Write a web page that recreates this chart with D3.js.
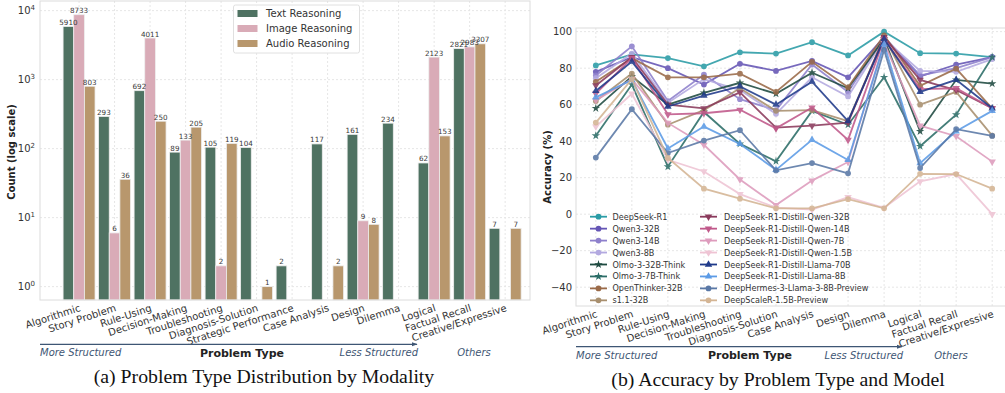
<!DOCTYPE html>
<html>
<head>
<meta charset="utf-8">
<script src="https://cdn.jsdelivr.net/npm/d3@7"></script>
<style>
body { margin: 0; background: #fff; }
svg { display: block; font-family: "DejaVu Sans", sans-serif; }
</style>
</head>
<body>
<svg id="chart" width="1005" height="393"></svg>
<script>
// ---- data: left panel (counts per problem type) ----
var barCategories = ["Algorithmic", "Story Problem", "Rule-Using", "Decision-Making", "Troubleshooting",
    "Diagnosis-Solution", "Strategic Performance", "Case Analysis", "Design", "Dilemma",
    "Logical", "Factual Recall", "Creative/Expressive"];
var textCounts  = [5910, 293, 692, 89, 105, 104, 2, 117, 161, 234, 62, 2821, 7];
var imageCounts = [8733, 6, 4011, 133, 2, null, null, null, 9, null, 2123, 2983, null];
var audioCounts = [803, 36, 250, 205, 119, 1, null, 2, 8, null, 153, 3307, 7];
var modalities = ["Text Reasoning", "Image Reasoning", "Audio Reasoning"];
var logTicks = [1, 10, 100, 1000, 10000];

// ---- data: right panel (accuracy per model) ----
var lineCategories = ["Algorithmic", "Story Problem", "Rule-Using", "Decision-Making", "Troubleshooting",
    "Diagnosis-Solution", "Case Analysis", "Design", "Dilemma", "Logical", "Factual Recall", "Creative/Expressive"];
var deepseekR1     = [81.5, 87.5, 85.5, 81, 88.7, 88, 94.2, 87, 100, 88.2, 88, 86];
var qwen3_32b      = [78, 86, 80, 71, 82.4, 78.5, 84, 75, 97, 75.5, 82, 86];
var qwen3_14b      = [76, 92, 62, 76.5, 63, 57, 82, 67, 97, 76, 80, 86];
var qwen3_8b       = [74.5, 88, 61, 74, 68, 55, 75, 64.5, 96, 78.5, 78, 85];
var olmo32bThink   = [58, 75.5, 60, 66.5, 72, 66, 77.5, 69, 96, 45.4, 73.6, 71.5];
var olmo7bThink    = [43, 71, 26, 56, 38.5, 29, 56.6, 49, 75, 37.2, 54.5, 86];
var openThinker32b = [72.5, 85.5, 75, 75, 77, 67, 83.5, 69.5, 98, 70.3, 79.7, 58];
var s1_32b         = [62, 77, 49, 57, 69, 56.6, 57, 51, 97, 60, 67, 43];
var distillQwen32b = [70.5, 86, 60, 58, 66.7, 47.4, 48.5, 50.2, 97, 73.6, 68, 58];
var distillQwen14b = [66, 85.5, 54.7, 55.3, 57.2, 47, 58.4, 40.7, 96, 68.5, 69, 58];
var distillQwen7b  = [62.5, 74, 50, 38, 19, 5, 18.4, 28.6, 94, 48.5, 42.7, 28.8];
var distillQwen15b = [48, 66, 29.8, 23.4, 11, 3.6, 2.5, 9.3, 3.5, 18, 22, 0];
var distillLlama70b = [67.5, 83.6, 59, 65, 70, 60, 72.6, 51, 96, 67, 73.6, 58];
var distillLlama8b = [64, 73.5, 36, 48, 38.5, 24.3, 40.7, 29.7, 93, 28, 45.4, 56.6];
var deepHermes8b   = [31, 57.5, 33.5, 40.3, 46, 24, 28, 22.4, 90, 25.3, 46.6, 42.9];
var deepScaleR15b  = [50.2, 74, 30.8, 14, 8.5, 3.2, 3.2, 8.2, 3.2, 22.1, 22, 14];
var accTicks = [-40, -20, 0, 20, 40, 60, 80, 100];

var models = [
    ["DeepSeek-R1", deepseekR1, "#2a9ca6", "circle"],
    ["Qwen3-32B", qwen3_32b, "#6555b5", "circle"],
    ["Qwen3-14B", qwen3_14b, "#8e80cc", "circle"],
    ["Qwen3-8B", qwen3_8b, "#b3a9e0", "circle"],
    ["Olmo-3-32B-Think", olmo32bThink, "#1e4a40", "star"],
    ["Olmo-3-7B-Think", olmo7bThink, "#2b6d67", "star"],
    ["OpenThinker-32B", openThinker32b, "#9a6a48", "circle"],
    ["s1.1-32B", s1_32b, "#a88f6e", "circle"],
    ["DeepSeek-R1-Distill-Qwen-32B", distillQwen32b, "#8a3a5c", "tridown"],
    ["DeepSeek-R1-Distill-Qwen-14B", distillQwen14b, "#c0588a", "tridown"],
    ["DeepSeek-R1-Distill-Qwen-7B", distillQwen7b, "#de9cbd", "tridown"],
    ["DeepSeek-R1-Distill-Qwen-1.5B", distillQwen15b, "#efc4d4", "tridown"],
    ["DeepSeek-R1-Distill-Llama-70B", distillLlama70b, "#1f3a8a", "triup"],
    ["DeepSeek-R1-Distill-Llama-8B", distillLlama8b, "#5c9be6", "triup"],
    ["DeepHermes-3-Llama-3-8B-Preview", deepHermes8b, "#5a78a6", "circle"],
    ["DeepScaleR-1.5B-Preview", deepScaleR15b, "#d4b594", "circle"]
];

var svg = d3.select("#chart");
var barColors = ["#4f7262", "#d9abb7", "#b8976d"];
var gridColor = "#e6e6e6";
var noteColor = "#3e5674";

// ================= left panel =================
var xBar = d3.scaleLinear().domain([-1.1, 12.7]).range([40, 530]);
var yBar = d3.scaleLog().domain([0.64, 13800]).range([300, 1]);
var bw = 0.3;

var left = svg.append("g");

// grid
left.selectAll(".vg").data(barCategories).enter().append("line")
    .attr("x1", function (d, i) { return xBar(i); })
    .attr("x2", function (d, i) { return xBar(i); })
    .attr("y1", 1).attr("y2", 300)
    .attr("stroke", gridColor).attr("stroke-dasharray", "2,2");
left.selectAll(".hg").data(logTicks).enter().append("line")
    .attr("x1", 40).attr("x2", 530)
    .attr("y1", function (d) { return yBar(d); })
    .attr("y2", function (d) { return yBar(d); })
    .attr("stroke", gridColor).attr("stroke-dasharray", "2,2");

var series = [textCounts, imageCounts, audioCounts];
var barItems = series.map(function (vals, s) {
    var off = (s - 1) * bw;
    return vals.map(function (v, i) { return { v: v, x: i + off, s: s }; })
        .filter(function (d) { return d.v; });
});
barItems.forEach(function (items, s) {
    left.selectAll(".bar" + s).data(items).enter().append("rect")
        .attr("x", function (d) { return xBar(d.x - bw / 2); })
        .attr("width", xBar(bw) - xBar(0))
        .attr("y", function (d) { return yBar(d.v); })
        .attr("height", function (d) { return 300 - yBar(d.v); })
        .attr("fill", barColors[s])
        .attr("stroke", "#eeeeee").attr("stroke-width", 0.8);
});
// value labels go on top of every bar
barItems.forEach(function (items, s) {
    left.selectAll(".lab" + s).data(items).enter().append("text")
        .attr("x", function (d) { return xBar(d.x); })
        .attr("y", function (d) { return yBar(d.v) - 1.5; })
        .attr("text-anchor", "middle")
        .attr("font-size", "7.2px")
        .attr("fill", "#3a3a3a")
        .text(function (d) { return d.v; });
});

// frame
left.append("rect").attr("x", 40).attr("y", 1).attr("width", 490).attr("height", 299)
    .attr("fill", "none").attr("stroke", "#dcdcdc").attr("stroke-width", 1);

// y ticks
var yt = left.selectAll(".yt").data(logTicks).enter().append("text")
    .attr("x", 35)
    .attr("y", function (d) { return yBar(d) + 3.5; })
    .attr("text-anchor", "end")
    .attr("font-size", "10px")
    .attr("fill", "#333");
yt.append("tspan").text("10");
yt.append("tspan").attr("dy", "-4").attr("font-size", "7px")
    .text(function (d) { return Math.round(Math.log10(d)); });

left.append("text")
    .attr("transform", "translate(15,152) rotate(-90)")
    .attr("text-anchor", "middle")
    .attr("font-size", "10px").attr("font-weight", "bold")
    .attr("fill", "#222")
    .text("Count (log scale)");

// x tick labels
left.selectAll(".xt").data(barCategories).enter().append("text")
    .attr("transform", function (d, i) { return "translate(" + xBar(i) + ",304) rotate(-18)"; })
    .attr("text-anchor", "end")
    .attr("dy", "0.71em")
    .attr("font-size", "10px")
    .attr("fill", "#333")
    .text(function (d) { return d; });

// legend
var leg = left.append("g");
leg.append("rect").attr("x", 233.5).attr("y", 5).attr("width", 126).attr("height", 48)
    .attr("rx", 2).attr("fill", "#fff").attr("fill-opacity", 0.85)
    .attr("stroke", "#e0e0e0");
modalities.forEach(function (m, k) {
    leg.append("rect").attr("x", 237.5).attr("y", 10 + k * 15).attr("width", 20).attr("height", 7)
        .attr("fill", barColors[k]);
    leg.append("text").attr("x", 266).attr("y", 17 + k * 15)
        .attr("font-size", "10px").attr("fill", "#333").text(m);
});

// ================= right panel =================
var xAcc = d3.scaleLinear().domain([-0.55, 11.55]).range([576, 1012]);
var yAcc = d3.scaleLinear().domain([-50.3, 102]).range([306, 28]);

var right = svg.append("g");
right.selectAll(".vg").data(lineCategories).enter().append("line")
    .attr("x1", function (d, i) { return xAcc(i); })
    .attr("x2", function (d, i) { return xAcc(i); })
    .attr("y1", 28).attr("y2", 306)
    .attr("stroke", gridColor).attr("stroke-dasharray", "2,2");
right.selectAll(".hg").data(accTicks).enter().append("line")
    .attr("x1", 576).attr("x2", 1012)
    .attr("y1", function (d) { return yAcc(d); })
    .attr("y2", function (d) { return yAcc(d); })
    .attr("stroke", gridColor).attr("stroke-dasharray", "2,2");
right.append("rect").attr("x", 576).attr("y", 28).attr("width", 436).attr("height", 278)
    .attr("fill", "none").attr("stroke", "#dcdcdc");

right.selectAll(".yt").data(accTicks).enter().append("text")
    .attr("x", 572)
    .attr("y", function (d) { return yAcc(d) + 3.5; })
    .attr("text-anchor", "end")
    .attr("font-size", "10px").attr("fill", "#333")
    .text(function (d) { return d < 0 ? "\u2212" + Math.abs(d) : d; });

right.append("text")
    .attr("transform", "translate(551,167) rotate(-90)")
    .attr("text-anchor", "middle")
    .attr("font-size", "10px").attr("font-weight", "bold").attr("fill", "#222")
    .text("Accuracy (%)");

right.selectAll(".xt").data(lineCategories).enter().append("text")
    .attr("transform", function (d, i) { return "translate(" + xAcc(i) + ",310) rotate(-18)"; })
    .attr("text-anchor", "end")
    .attr("dy", "0.71em")
    .attr("font-size", "10px").attr("fill", "#333")
    .text(function (d) { return d; });

function markerPath(kind) {
    var sym = d3.symbolCircle, size = 26;
    if (kind === "star") { sym = d3.symbolStar; size = 22; }
    if (kind === "triup" || kind === "tridown") { sym = d3.symbolTriangle; size = 24; }
    return d3.symbol().type(sym).size(size)();
}

var line = d3.line()
    .x(function (d, i) { return xAcc(i); })
    .y(function (d) { return yAcc(d); });

models.forEach(function (m) {
    var g = right.append("g").attr("opacity", 0.88);
    g.append("path").datum(m[1])
        .attr("d", line)
        .attr("fill", "none")
        .attr("stroke", m[2]).attr("stroke-width", 1.8);
    g.selectAll("path.mk").data(m[1]).enter().append("path")
        .attr("class", "mk")
        .attr("d", markerPath(m[3]))
        .attr("transform", function (d, i) {
            return "translate(" + xAcc(i) + "," + yAcc(d) + ")" + (m[3] === "tridown" ? " rotate(180)" : "");
        })
        .attr("fill", m[2]);
});

// model legend
models.forEach(function (m, k) {
    var col = k < 8 ? 0 : 1;
    var row = k % 8;
    var lx = col === 0 ? 590 : 700;
    var tx = col === 0 ? 612.5 : 724;
    var ly = 216.7 + row * 11.95;
    right.append("line").attr("x1", lx).attr("x2", lx + 17).attr("y1", ly).attr("y2", ly)
        .attr("stroke", m[2]).attr("stroke-width", 1.8);
    right.append("path")
        .attr("d", markerPath(m[3]))
        .attr("transform", "translate(" + (lx + 8.5) + "," + ly + ")" + (m[3] === "tridown" ? " rotate(180)" : ""))
        .attr("fill", m[2]);
    right.append("text").attr("x", tx).attr("y", ly + 3)
        .attr("font-size", "8.1px").attr("fill", "#333").text(m[0]);
});

// ================= structure arrows and captions =================
svg.append("defs").append("marker")
    .attr("id", "arrowhead").attr("viewBox", "0 0 10 10")
    .attr("refX", 9).attr("refY", 5)
    .attr("markerWidth", 5).attr("markerHeight", 5)
    .attr("orient", "auto")
    .append("path").attr("d", "M0,1.5 L10,5 L0,8.5 z").attr("fill", noteColor);

function structureNote(x0, x1, y, others, center, caption, capX) {
    svg.append("line").attr("x1", x0).attr("x2", x1).attr("y1", y).attr("y2", y)
        .attr("stroke", noteColor).attr("stroke-width", 1.2)
        .attr("marker-end", "url(#arrowhead)");
    svg.append("text").attr("x", x0).attr("y", y + 12)
        .attr("font-size", "10px").attr("font-style", "italic").attr("fill", noteColor)
        .text("More Structured");
    svg.append("text").attr("x", x1 + 1).attr("y", y + 12).attr("text-anchor", "end")
        .attr("font-size", "10px").attr("font-style", "italic").attr("fill", noteColor)
        .text("Less Structured");
    svg.append("text").attr("x", others).attr("y", y + 12).attr("text-anchor", "middle")
        .attr("font-size", "10px").attr("font-style", "italic").attr("fill", noteColor)
        .text("Others");
    svg.append("text").attr("x", center).attr("y", y + 12.5).attr("text-anchor", "middle")
        .attr("font-size", "11px").attr("font-weight", "bold").attr("fill", "#222")
        .text("Problem Type");
    svg.append("text").attr("x", capX).attr("y", y + 39).attr("text-anchor", "middle")
        .attr("font-family", "'Liberation Serif', serif")
        .attr("font-size", "19.8px").attr("fill", "#111")
        .text(caption);
}
structureNote(40, 417, 344.3, 474, 242, "(a) Problem Type Distribution by Modality", 264);
structureNote(576, 902, 346.7, 951, 750, "(b) Accuracy by Problem Type and Model", 778);
</script>
</body>
</html>
